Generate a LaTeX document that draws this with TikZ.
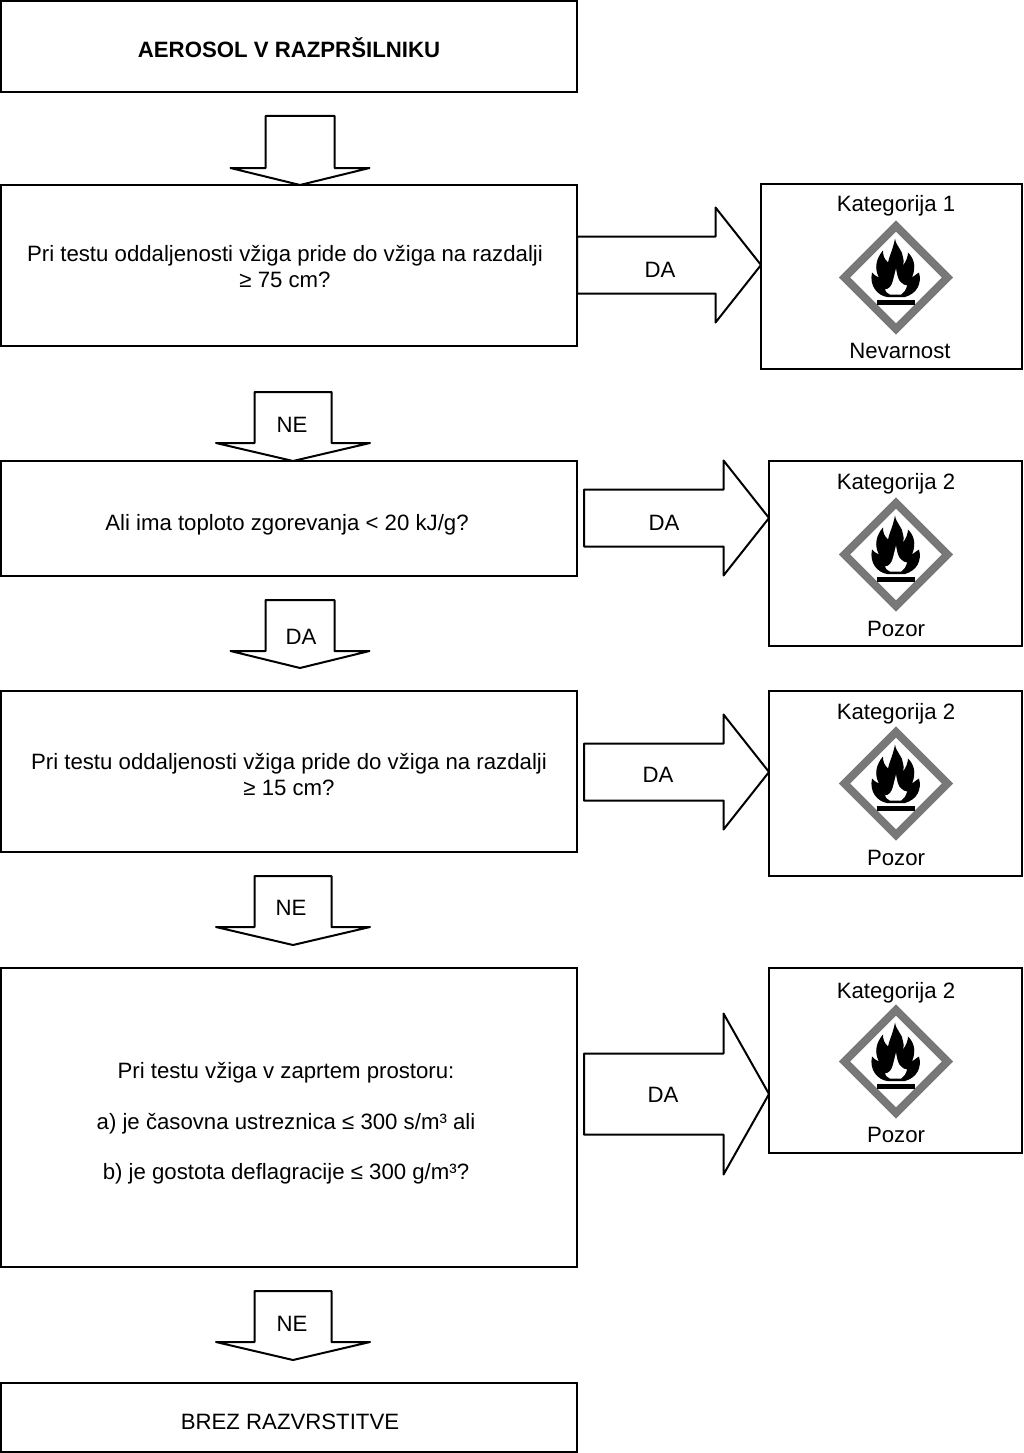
\documentclass[tikz,border=0pt]{standalone}
\usepackage{fontspec}
\setmainfont{Liberation Sans}
\usetikzlibrary{positioning, calc}
\definecolor{my_gray}{RGB}{120, 120, 120}
\tikzset {
  box/.style = {draw, line width=2pt, minimum width=576pt, rectangle, fill=white, inner sep=0pt, outer sep=0pt},
  result/.style = {draw, line width=2pt, minimum height=185pt, rectangle, anchor=north west, fill=white, inner sep=0pt, outer sep=0pt},
  blockarrow/.style = {draw, line width=2pt, fill=white, line join=round},
  plain/.style = {inner sep=0pt, outer sep=0pt, align=center},
  ghs/.pic = {
    \draw[my_gray, line width=8pt, fill=white, line join=miter] (0,-51.5) -- (51.5,0) -- (0,51.5) -- (-51.5,0) -- cycle;
    \fill[black] (-19,22) rectangle (19,27);
    \fill[black] (-9,19.5) .. controls (-18,18) and (-27,9) .. (-24,-5)
      .. controls (-22,-3) and (-20,-1) .. (-17,0)
      .. controls (-22,-9) and (-20,-19) .. (-13,-27)
      .. controls (-13,-22) and (-12,-19) .. (-8,-15)
      .. controls (-7,-21) and (-3,-28) .. (-1,-39)
      .. controls (0,-31) and (7,-27) .. (7,-20)
      .. controls (8,-18) and (8,-15) .. (7,-12)
      .. controls (10,-16) and (12,-21) .. (12,-25)
      .. controls (17,-20) and (21,-12) .. (16,0)
      .. controls (19,-2) and (21,-4) .. (23,-5)
      .. controls (26,6) and (21,16) .. (9,19.5) -- cycle;
    \fill[white] (-6,17) .. controls (-9,16) and (-10,14) .. (-11,12)
      .. controls (-7,12) and (-4,8) .. (-3,3)
      .. controls (-2,-1) and (-1,-5) .. (0,-9)
      .. controls (1,-3) and (2,3) .. (5,5)
      .. controls (7,7) and (9,8) .. (11,8)
      .. controls (10,12) and (8,15) .. (5,17) -- cycle;
  }
}
% name, tip, half shaft, half head, length, neck, label, label shift
\newcommand{\blockdown}[8]{
  \draw[blockarrow] (#2) -- ++(-#4,-#6) -- ++(#4-#3,0) -- ++(0,-#5+#6) -- ++(2*#3,0) -- ++(0,#5-#6) -- ++(#4-#3,0) -- cycle;
  \node[plain] (#1) at ($(#2)+#8$) {#7};
}
% name, tail, tip, half shaft, half head, label, label shift
\newcommand{\blockright}[7]{
  \draw[blockarrow] (#3) -- ++(-45.5,-#5) -- ++(0,#5-#4) -- ($(#2 |- #3)+(0,-#4)$) -- ($(#2 |- #3)+(0,#4)$) -- ($(#3)+(-45.5,#4)$) -- ++(0,#5-#4) -- cycle;
  \node[plain] (#1) at ($(#3)+#7$) {#6};
}

\begin{document}
\begin{tikzpicture}[x=1pt, y=-1pt, font=\fontsize{22.2}{25.5}\selectfont]
    \useasboundingbox (0,0) rectangle (1023,1453);

    % left column
    \node[box, minimum height=91pt, anchor=north west] (start) at (1,1) {};
    \node[box, minimum height=161pt, below=93pt of start] (q1) {};
    \node[box, minimum height=115pt, below=115pt of q1] (q2) {};
    \node[box, minimum height=161pt, below=115pt of q2] (q3) {};
    \node[box, minimum height=299pt, below=116pt of q3] (q4) {};
    \node[box, minimum height=69pt, below=116pt of q4] (none) {};

    \node[plain] (starttext) at ($(start.center)+(0,1)$) {\bfseries AEROSOL V RAZPRŠILNIKU};
    \node[plain] (q1text) at ($(q1.center)+(-4,1)$) {Pri testu oddaljenosti vžiga pride do vžiga na razdalji\\≥ 75 cm?};
    \node[plain] (q2text) at ($(q2.center)+(-2,6)$) {Ali ima toploto zgorevanja < 20 kJ/g?};
    \node[plain] (q3text) at ($(q3.center)+(0,3)$) {Pri testu oddaljenosti vžiga pride do vžiga na razdalji\\≥ 15 cm?};
    \node[plain] (q4text) at ($(q4.center)+(-3,6)$) {Pri testu vžiga v zaprtem prostoru:\\[25pt]a) je časovna ustreznica ≤ 300 s/m³ ali\\[25pt]b) je gostota deflagracije ≤ 300 g/m³?};
    \node[plain] (nonetext) at ($(none.center)+(1,4)$) {BREZ RAZVRSTITVE};

    % right column
    \node[result, minimum width=261pt] (r1) at (761,184) {};
    \node[result, minimum width=253pt] (r2) at (769,461) {};
    \node[result, minimum width=253pt] (r3) at (769,691) {};
    \node[result, minimum width=253pt] (r4) at (769,968) {};

    \node[plain] (kat1) at ($(r1.north)+(4.5,22)$) {Kategorija 1};
    \pic (ghs1) at ($(r1.center)+(4.5,1)$) {ghs};
    \node[plain] (signal1) at ($(r1.south)+(8.5,-18)$) {Nevarnost};
    \node[plain] (kat2) at ($(r2.north)+(0.5,23)$) {Kategorija 2};
    \pic (ghs2) at ($(r2.center)+(0.5,1)$) {ghs};
    \node[plain] (signal2) at ($(r2.south)+(0.5,-17)$) {Pozor};
    \node[plain] (kat3) at ($(r3.north)+(0.5,23)$) {Kategorija 2};
    \pic (ghs3) at ($(r3.center)+(0.5,0)$) {ghs};
    \node[plain] (signal3) at ($(r3.south)+(0.5,-18)$) {Pozor};
    \node[plain] (kat4) at ($(r4.north)+(0.5,25)$) {Kategorija 2};
    \pic (ghs4) at ($(r4.center)+(0.5,1)$) {ghs};
    \node[plain] (signal4) at ($(r4.south)+(0.5,-18)$) {Pozor};

    % down arrows
    \coordinate (tip0) at ($(q1.north)+(11,0)$);
    \coordinate (tip1) at ($(q2.north)+(4,0)$);
    \coordinate (tip2) at ($(q3.north)+(11,-23)$);
    \coordinate (tip3) at ($(q4.north)+(4,-23)$);
    \coordinate (tip4) at ($(none.north)+(4,-23)$);
    \blockdown{arrow0}{tip0}{34.5}{69.5}{69}{17}{}{(0,-35)}
    \blockdown{arrow1}{tip1}{38.5}{77}{69}{18}{NE}{(-1,-36)}
    \blockdown{arrow2}{tip2}{34.5}{69.5}{68}{17}{DA}{(1,-31)}
    \blockdown{arrow3}{tip3}{38.5}{77}{69}{18}{NE}{(-2,-37)}
    \blockdown{arrow4}{tip4}{38.5}{77}{69}{18}{NE}{(-1,-36)}

    % right arrows
    \coordinate (tipr1) at ($(r1.west)+(0,-11.5)$);
    \coordinate (tipr2) at ($(r2.west)+(0,-35.5)$);
    \coordinate (tipr3) at ($(r3.west)+(0,-11.5)$);
    \coordinate (tipr4) at ($(r4.west)+(0,33.5)$);
    \coordinate (tail2) at ($(q2.east)+(7,0)$);
    \coordinate (tail3) at ($(q3.east)+(7,0)$);
    \coordinate (tail4) at ($(q4.east)+(7,0)$);
    \blockright{da1}{q1.east}{tipr1}{28.5}{57.5}{DA}{(-101,5)}
    \blockright{da2}{tail2}{tipr2}{28.5}{57.5}{DA}{(-105,5)}
    \blockright{da3}{tail3}{tipr3}{28.5}{57.5}{DA}{(-111,3)}
    \blockright{da4}{tail4}{tipr4}{40.5}{80.5}{DA}{(-106,1)}

\end{tikzpicture}
\end{document}
